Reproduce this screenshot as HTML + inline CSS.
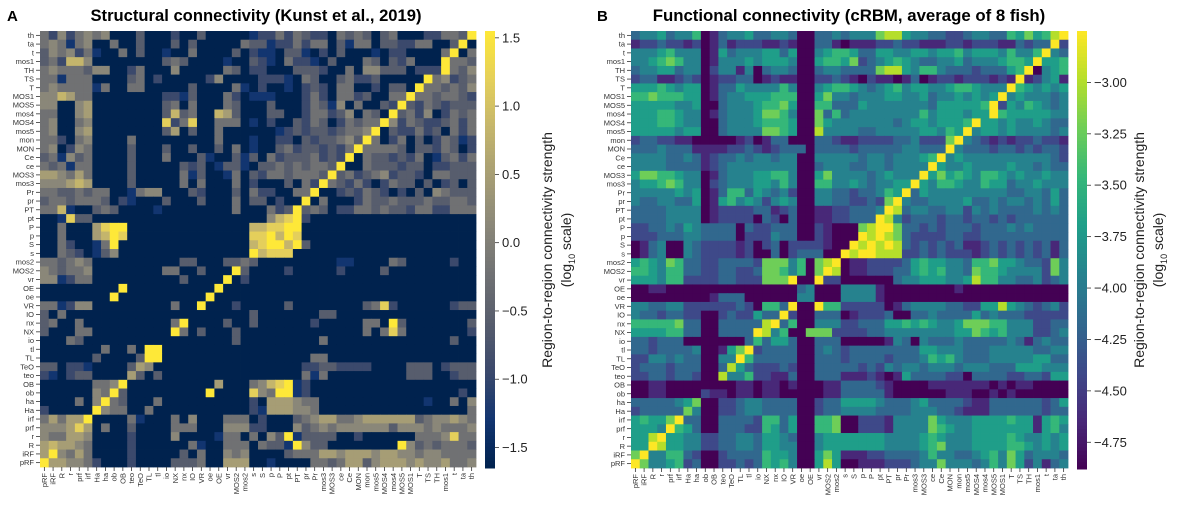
<!DOCTYPE html>
<html><head><meta charset="utf-8">
<style>
html,body{margin:0;padding:0;background:#fff;}
svg{display:block;font-family:"Liberation Sans",Arial,sans-serif;}
</style></head>
<body>
<svg id="fig" width="1193" height="522" viewBox="0 0 1193 522" xmlns="http://www.w3.org/2000/svg">
<text x="7" y="21" font-size="15" font-weight="bold">A</text>
<text x="256" y="21" font-size="16.6" font-weight="bold" text-anchor="middle">Structural connectivity (Kunst et al., 2019)</text>
<text x="597" y="21" font-size="15" font-weight="bold">B</text>
<text x="849" y="21" font-size="16.8" font-weight="bold" text-anchor="middle">Functional connectivity (cRBM, average of 8 fish)</text>
<g id="panelA"></g>
<g id="panelB"></g>
<text transform="translate(552,250) rotate(-90)" font-size="14" text-anchor="middle" fill="#222">Region-to-region connectivity strength</text>
<text transform="translate(571,250) rotate(-90)" font-size="14" text-anchor="middle" fill="#222">(log<tspan font-size="9" dy="4">10</tspan><tspan dy="-4"> scale)</tspan></text>
<text transform="translate(1144,250) rotate(-90)" font-size="14" text-anchor="middle" fill="#222">Region-to-region connectivity strength</text>
<text transform="translate(1163,250) rotate(-90)" font-size="14" text-anchor="middle" fill="#222">(log<tspan font-size="9" dy="4">10</tspan><tspan dy="-4"> scale)</tspan></text>
</svg>
<script>
// Region labels (rows top->bottom); columns are the reverse order
const regions = ["th","ta","t","mos1","TH","TS","T","MOS1","MOS5","mos4","MOS4","mos5","mon","MON","Ce","ce","MOS3","mos3","Pr","pr","PT","pt","P","p","S","s","mos2","MOS2","vr","OE","oe","VR","IO","nx","NX","io","tl","TL","TeO","teo","OB","ob","ha","Ha","irf","prf","r","R","iRF","pRF"];
// Panel A values, quantised levels 0..9 spanning the colour range (-1.65 .. 1.55)
const levelsA = [
"42524545000300020030000012242432204343034000224439",
"45414500400300030300000433122424403144033224400390",
"35452410040300100400003021103310203000102200004904",
"34277500000000343000010032104221030004303240009443",
"45444355002400050000043022000333200405533302229435",
"44144400003402000002500002221043003422300000945234",
"45444414004400000300004102001023204400203309443435",
"55764400000000221300042011100024204423004494434432",
"55005600000000340400043000300024315040032932432333",
"44005600000000373400763000330024423504309342502434",
"45004500000000824800444010200324302434495243223424",
"45005600000000360300400000012323323445903224230424",
"44204500004000000000400010022032334539402403024312",
"45025400003000300300304010034233232494444303324302",
"34153400003000400031003130423334232904332324013424",
"43414400003000003230133103343434439004333233022333",
"66546400003000004130014032443444393423452332044333",
"55567600003000004040004020003042943242024330302303",
"44334344001455000320003042200449002324320203054333",
"34434443021000300030004033020090400024334333433443",
"44710034300001000000004000423934302244343324422444",
"00183300000000000000000000578920000000000000000000",
"00400068990000000000000077889900000000000000000000",
"00400067980000000000000088979800000000000000000000",
"00420014900000000000000078997930000000000000000000",
"00432013500000000000000097888000000000000000000000",
"44345400000000003300033430000000001100004300000200",
"54344500000000440030009300002000002000030000000000",
"55124400000000003000090200000000000000000000000000",
"00000000090000000000900000000000000000000000000000",
"00000000900000000009000000000000000000000000000000",
"44125500000000040090002000003000000003482000000233",
"30400000000000000000000030000000330000000000000000",
"34004000000000049000030030000002000004409300000003",
"30004400000000094030003000000000000004048400000002",
"00043000000000000000003000000000400000000000000300",
"00000004004099000000000000000000000000000000000000",
"00000030000399000000000000000004400000000000000000",
"33022100003650000000000000000022332222000033302333",
"21023300006303000000000000000041400000000033300233",
"00000044590000000000600045789120000000000000000000",
"00000054930000000009000085499120000000000000000020",
"00004059430004000000000020666544000000000000100405",
"20000095440040000000000021666554000000000000000004",
"46466900004100040500044402000345664456666663455654",
"55568604003000044400055522000534545555553555454445",
"54466500002000050000144040539133330020000004445844",
"67665400002000000410044404331953300000000953434443",
"69546400002000003040054500003444665666566554554444",
"96655420002000033340066600100004434663566656556445"
];
// Panel B values, quantised levels 0..9 spanning the colour range (-4.88 .. -2.75)
const levelsB = [
"34453446013445334430033434447885443322344336575689",
"12232212013122211210033101112232211122122211323392",
"44456444015344455350045665335544554556455546446943",
"44567644014445455540056657234565433445344456659556",
"34455344024414034430034433337885466433323335690456",
"23311232012233012110022321021101301221222121912451",
"55565455013354444640045665434564554456654449654545",
"66766655013445556660057443444554453445454594544434",
"55555445003444566750066333544444443555556925465434",
"55566544013444577640073634444444464555455965555544",
"55566544003444566650075444444434554555695545445433",
"55555455003444477650084444334444455465945545444434",
"23322110000012013300033211222233422279432121223221",
"33343331111223212333033332333334433394333233232332",
"44443343123343443440044444344344456945444444444432",
"44443333123444444440034443344344449544544445443433",
"57766544013444556640057444434544495756546654544544",
"45567644023444554640066445434455954665446553445444",
"44444545013663543420044332334659354444444443344353",
"43344335015645424540044332232794334444533434434353",
"33334444012222331230011223334983443344243433334343",
"33334444012222032030011223339842333233233232333333",
"22334354333303223330021000789973323233323334343333",
"22233344333302224330021000989873222233223333333333",
"01340043222212023022221009898983232323112323232313",
"01340043222212003023330098998882232322212323232313",
"56547633223333277746078901122223565544366755433274",
"66546633223322377646079801122233565644376654444274",
"55546622223322277790092200000034455544586644334234",
"00110000000000000003400044441000000001000000000000",
"00000000013330000004400044441000000000000000000000",
"44334422222232066390096622222013444433225585432342",
"43323322002322533920033301222300334333353433322222",
"66666733003333389360044422333556565445777664442233",
"55556633003333984600777222233444444445576564442234",
"33233300000003635530033300000143043334333334313433",
"33233334001579233330034323333333355444333444443344",
"22443433004496333330033323333233346564333444445533",
"23332333003853222320033333232434434443444333555444",
"22332332008446221130033311121015333322033332233255",
"00110000000011011010001133332100001111111010110000",
"00110000211011011000001133333100000011100101000000",
"33333457002234433330023355554333453333211333333235",
"23333374002234433330023344443333444332111333333233",
"56557933003333266350066700222144447544455556551565",
"55549653003332265350066700222144447654455555551564",
"55895544223344355430045555555444456544455556544545",
"55985544223344355440045555555444456744455556654545",
"79446632002333365540057511122333346443345647534443",
"97445623002232365640058500111222344744434647524134"
];
const rangeA = [-1.65, 1.55];
const rangeB = [-4.88, -2.75];
const ticksA = [1.5, 1.0, 0.5, 0.0, -0.5, -1.0, -1.5];
const tickLabelsA = ["1.5","1.0","0.5","0.0","\u22120.5","\u22121.0","\u22121.5"];
const ticksB = [-3.00, -3.25, -3.50, -3.75, -4.00, -4.25, -4.50, -4.75];
const tickLabelsB = ["\u22123.00","\u22123.25","\u22123.50","\u22123.75","\u22124.00","\u22124.25","\u22124.50","\u22124.75"];

const NS = "http://www.w3.org/2000/svg";
const cividis = ["#00224e","#123570","#3b496c","#575d6d","#707173","#8a8779","#a69d75","#c4b56c","#e4cf5b","#fee838"];
const viridis = ["#440154","#482878","#3e4989","#31688e","#26828e","#1f9e89","#35b779","#6ece58","#b5de2b","#fde725"];
function hex(c){return [parseInt(c.slice(1,3),16),parseInt(c.slice(3,5),16),parseInt(c.slice(5,7),16)];}
function cmap(stops,t){
  t=Math.max(0,Math.min(1,t));const p=t*(stops.length-1);const i=Math.min(stops.length-2,Math.floor(p));const f=p-i;
  const a=hex(stops[i]),b=hex(stops[i+1]);
  return "rgb("+a.map((v,k)=>Math.round(v+(b[k]-v)*f)).join(",")+")";
}
function mk(tag,attrs,parent){const e=document.createElementNS(NS,tag);for(const k in attrs)e.setAttribute(k,attrs[k]);parent.appendChild(e);return e;}

function drawPanel(g,levels,range,stops,x0,y0,size,cbx,ticks,tickLabels,prefix){
  const n=regions.length;const cs=size/n;
  const decode=d=>range[0]+d*(range[1]-range[0])/9;
  const xScale=j=>x0+j*cs;
  const yScale=i=>y0+i*cs;
  const colorOf=v=>cmap(stops,(v-range[0])/(range[1]-range[0]));
  for(let i=0;i<n;i++){
    for(let j=0;j<n;j++){
      const v=decode(+levels[i][j]);
      const r=mk("rect",{x:xScale(j).toFixed(2),y:yScale(i).toFixed(2),width:(cs+0.4).toFixed(2),height:(cs+0.4).toFixed(2),fill:colorOf(v)},g);
      
      
    }
  }
  for(let i=0;i<n;i++){
    const yc=yScale(i)+cs/2;
    mk("line",{x1:x0-4,x2:x0,y1:yc,y2:yc,stroke:"#333","stroke-width":0.8},g);
    const t=mk("text",{x:x0-6,y:yc+2.6,"font-size":7.5,"text-anchor":"end",fill:"#333"},g);
    t.textContent=regions[i];
    
    
  }
  for(let j=0;j<n;j++){
    const xc=xScale(j)+cs/2;
    mk("line",{x1:xc,x2:xc,y1:y0+size,y2:y0+size+4,stroke:"#333","stroke-width":0.8},g);
    const t=mk("text",{transform:"translate("+(xc+2.6)+","+(y0+size+6)+") rotate(-90)","font-size":7.5,"text-anchor":"end",fill:"#333"},g);
    t.textContent=regions[n-1-j];
    
    
  }
  const cbTop=y0, cbBot=y0+size+1, cbw=10;
  const steps=120;
  for(let k=0;k<steps;k++){
    const tt=k/steps;
    const r=mk("rect",{x:cbx,y:(cbBot-(k+1)*(cbBot-cbTop)/steps).toFixed(2),width:cbw,height:((cbBot-cbTop)/steps+0.5).toFixed(2),fill:cmap(stops,tt+0.5/steps)},g);
    
    
  }
  const cbY=v=>cbBot-(v-range[0])/(range[1]-range[0])*(cbBot-cbTop);
  ticks.forEach((v,k)=>{
    const y=cbY(v);
    mk("line",{x1:cbx+cbw,x2:cbx+cbw+4,y1:y,y2:y,stroke:"#333","stroke-width":0.8},g);
    const t=mk("text",{x:cbx+cbw+7,y:y+4.5,"font-size":13,fill:"#222"},g);
    t.textContent=tickLabels[k];
    
    
  });
}
drawPanel(document.getElementById("panelA"),levelsA,rangeA,cividis,40,31,436,485,ticksA,tickLabelsA,"structural");
drawPanel(document.getElementById("panelB"),levelsB,rangeB,viridis,631,31,437,1077,ticksB,tickLabelsB,"functional");
</script>
</body></html>
